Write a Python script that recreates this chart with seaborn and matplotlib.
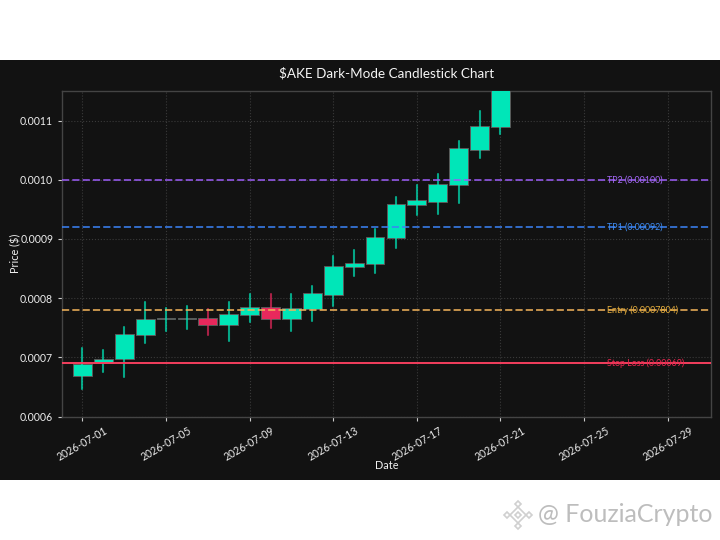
import matplotlib
matplotlib.use("Agg")
import matplotlib.pyplot as plt
import matplotlib.dates as mdates
from matplotlib.patches import Rectangle, RegularPolygon
import numpy as np
import pandas as pd
import seaborn as sns

# values
days = pd.date_range("2026-07-01", periods=21, freq="D")
opens = [.000669, .000691, .000697, .000738, .000764, .000765, .000766, .000755, .000771, .000785, .000764,
         .000782, .000806, .000852, .000858, .000902, .000958, .000963, .000992, .001051, .001089]
closes = [.000689, .000698, .000740, .000765, .000766, .000766, .000755, .000773, .000785, .000764, .000783,
          .000808, .000854, .000860, .000904, .000959, .000965, .000993, .001053, .001091, .001160]
highs = [.000715, .000712, .000751, .000793, .000783, .000786, .000781, .000793, .000807, .000807, .000807,
         .000821, .000871, .000881, .000917, .000971, .000992, .001010, .001065, .001117, .001180]
lows = [.000647, .000676, .000667, .000724, .000744, .000748, .000737, .000728, .000760, .000750, .000745,
        .000762, .000786, .000838, .000843, .000885, .000940, .000943, .000961, .001037, .001078]

level_names = ["TP2 (0.00100)", "TP1 (0.00092)", "Entry (0.0007804)", "Stop Loss (0.00069)"]
level_values = [0.00100, 0.00092, 0.0007804, 0.00069]
level_colors = ["#9B5CF6", "#3B82F6", "#F2B35A", "#F43F5E"]
level_styles = ["--", "--", "--", "-"]
level_text_colors = ["#A468F5", "#3F8CF2", "#E6AE3C", "#E8264F"]

tick_days = pd.date_range("2026-07-01", "2026-07-29", freq="4D")

BG = "#121212"
UP = "#00E6B8"
DOWN = "#E8285C"

sns.set_theme(style="dark")
plt.rcParams["font.family"] = ["Lato", "DejaVu Sans"]

fig = plt.figure(figsize=(7.2, 5.4), dpi=100, facecolor="white")
fig.patches.append(Rectangle((0, 60 / 540), 1, 420 / 540, transform=fig.transFigure, facecolor=BG, edgecolor="none", zorder=-5))
ax = fig.add_axes([61.5 / 720, 1 - 416.5 / 540, 649.5 / 720, 325.5 / 540])
ax.set_facecolor(BG)

x = mdates.date2num(days)
df = pd.DataFrame({"x": x, "open": opens, "close": closes, "high": highs, "low": lows})
df["bottom"] = df[["open", "close"]].min(axis=1)
df["height"] = (df["close"] - df["open"]).abs()
df["kind"] = np.where(df["close"] >= df["open"], "up", "down")
palette = {"up": UP, "down": DOWN}

# bodies, seaborn scales width by the smallest gap in each group
for kind, color in palette.items():
    part = df[df["kind"] == kind]
    gap = np.diff(part["x"].values).min()
    sns.barplot(x=part["x"].values, y=part["height"].values, bottom=part["bottom"].values, native_scale=True,
                width=0.9 / gap, color=color, saturation=1, edgecolor="#5a5a5a", linewidth=0.7, ax=ax, zorder=3)

# wicks, one line per day
wicks = df.melt(id_vars=["x", "kind"], value_vars=["low", "high"], value_name="price")
sns.lineplot(data=wicks, x="x", y="price", hue="kind", palette=palette, units="x", estimator=None,
             sort=False, linewidth=1.5, alpha=0.7, legend=False, ax=ax, zorder=3.5)

for name, val, col, ls, tcol in zip(level_names, level_values, level_colors, level_styles, level_text_colors):
    ax.axhline(val, color=col, linestyle=ls, linewidth=1.4, alpha=0.8 if ls == "--" else 1, zorder=4)
    ax.text(mdates.date2num(pd.Timestamp("2026-07-26 02:00")), val, name, color=tcol, fontsize=6.4, va="center", ha="left", zorder=5)

ax.set_xlim(x[0] - 1.0, x[0] + 30.07)
ax.set_ylim(0.0006, 0.00115)
ax.set_xticks(mdates.date2num(tick_days))
ax.set_xticklabels([d.strftime("%Y-%m-%d") for d in tick_days], rotation=30, ha="center")
ax.set_yticks([0.0006, 0.0007, 0.0008, 0.0009, 0.0010, 0.0011])
ax.set_yticklabels(["0.0006", "0.0007", "0.0008", "0.0009", "0.0010", "0.0011"])
ax.tick_params(colors="#ececec", labelsize=7.6, length=3, width=0.8, bottom=True, left=True, color="#cccccc", pad=3)
ax.grid(True, color="#3a3a3a", linestyle=":", linewidth=0.8, zorder=0)
ax.set_axisbelow(True)
for s in ax.spines.values():
    s.set_color("#444444")
    s.set_linewidth(1)

ax.set_xlabel("Date", color="#f0f0f0", fontsize=7.8, labelpad=-2)
ax.set_ylabel(r"Price (\$)", color="#f0f0f0", fontsize=7.8, labelpad=-1)
ax.set_title(r"\$AKE Dark-Mode Candlestick Chart", color="#f5f5f5", fontsize=9.7, pad=10)

# watermark
for cx, cy, r in [(518, 515, 8), (518, 515, 3), (507, 515, 3), (529, 515, 3), (518, 526, 3), (518, 504, 3)]:
    fig.patches.append(RegularPolygon((cx, 540 - cy), 4, radius=r, orientation=0, transform=None,
                                      facecolor="none", edgecolor="#d0d0d0", linewidth=1.2))
fig.text(538 / 720, 1 - 515 / 540, "@ FouziaCrypto", color="#bdbdbd", fontsize=18, va="center", ha="left")

fig.savefig("out.png", dpi=100, facecolor="white")
